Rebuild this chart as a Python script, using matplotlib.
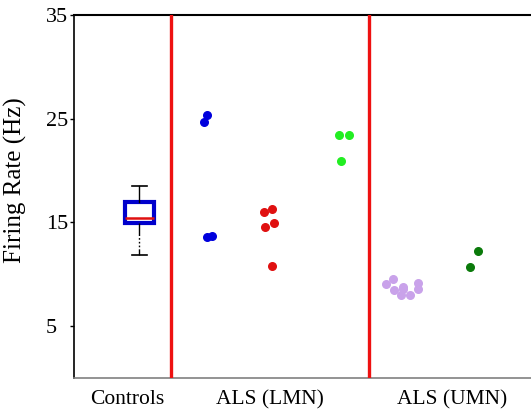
import matplotlib.pyplot as plt
import numpy as np

plt.rcParams['font.family'] = ['Liberation Serif', 'DejaVu Serif']

# group labels on x axis
group_labels = ['Controls', 'ALS (LMN)', 'ALS (UMN)']
group_pos = [1.16, 4.29, 8.27]
divider_x = [2.12, 6.46]

# control box stats (Hz)
ctrl_stats = dict(med=15.4, q1=14.9, q3=17.0, whislo=11.9, whishi=18.5, fliers=[])
ctrl_x = 1.43

# individual patients (x position, firing rate)
blue_x = [2.91, 2.84, 2.91, 3.02]
blue_y = [25.4, 24.7, 13.55, 13.65]
red_x = [4.16, 4.33, 4.18, 4.38, 4.33]
red_y = [16.05, 16.25, 14.6, 14.9, 10.8]
green_x = [5.80, 6.02, 5.84]
green_y = [23.4, 23.4, 20.95]
purple_x = [6.83, 6.98, 7.0, 7.2, 7.16, 7.35, 7.53, 7.53, 7.21]
purple_y = [9.1, 9.5, 8.5, 8.75, 8.0, 8.0, 9.2, 8.55, 8.6]
dkgreen_x = [8.84, 8.67]
dkgreen_y = [12.2, 10.7]

fig = plt.figure(figsize=(5.31, 4.13), dpi=100)
ax = fig.add_axes([74/531, 35/413, 457/531, 363/413])

bp = ax.bxp([ctrl_stats], positions=[ctrl_x], widths=0.63, showfliers=False,
            patch_artist=True,
            boxprops=dict(facecolor='white', edgecolor='#0000cc', linewidth=3),
            medianprops=dict(color='#e01010', linewidth=1.8),
            whiskerprops=dict(color='black', linewidth=1),
            capprops=dict(color='black', linewidth=1.2))
# lower whisker has a broken/dotted stretch in the original
bp['whiskers'][0].set_linestyle((0, (9, 1.5, 1.2, 1.5, 1.2, 1.5, 1.2, 1.5, 30)))

for xv in divider_x:
    ax.axvline(xv, color='#ee1111', linewidth=2.4, zorder=3)

ms = 30
ax.scatter(blue_x, blue_y, s=ms, color='#0000dd', zorder=4)
ax.scatter(red_x, red_y, s=ms, color='#e01010', zorder=4)
ax.scatter(green_x, green_y, s=ms, color='#22ee22', zorder=4)
ax.scatter(purple_x, purple_y, s=ms, color='#c9a2ea', zorder=4)
ax.scatter(dkgreen_x, dkgreen_y, s=ms, color='#0a7a0a', zorder=4)

ax.set_xlim(0, 10)
ax.set_ylim(0, 35)
ax.set_yticks([5, 15, 25, 35])
ax.set_yticklabels(['5  ', '15', '25', '35'])
ax.set_xticks(group_pos)
ax.set_xticklabels(group_labels)
ax.tick_params(axis='x', length=0, pad=9, labelsize=15.5)
ax.tick_params(axis='y', length=3, width=1, direction='out', pad=1, labelsize=16)
ax.set_ylabel('Firing Rate (Hz)', fontsize=18)
ax.yaxis.set_label_coords(-0.103, 0.545)

ax.spines['right'].set_visible(False)
ax.spines['top'].set_linewidth(1.5)
ax.spines['left'].set_linewidth(1.2)
ax.spines['bottom'].set_color('#808080')
ax.spines['bottom'].set_linewidth(1.2)

fig.savefig('out.png', dpi=100)
